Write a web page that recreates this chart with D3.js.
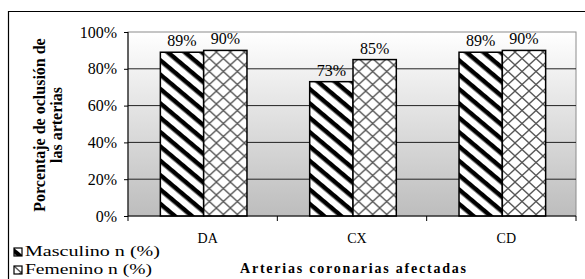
<!DOCTYPE html>
<html>
<head>
<meta charset="utf-8">
<script src="https://cdn.jsdelivr.net/npm/d3@7/dist/d3.min.js"></script>
<style>
  body { margin: 0; background: #fff; }
  svg { display: block; font-family: "Liberation Serif", "Times New Roman", serif; }
</style>
</head>
<body>
<svg id="chart"></svg>
<script>
// data
const categories = ["DA", "CX", "CD"];
const seriesNames = ["Masculino  n (%)", "Femenino n (%)"];
const masculino = [89, 73, 89];
const femenino = [90, 85, 90];
const yTicks = [0, 20, 40, 60, 80, 100];

const width = 585, height = 279;
const marginLeft = 128, marginRight = 9, marginTop = 32, marginBottom = 63;

const svg = d3.select("#chart")
  .attr("width", width)
  .attr("height", height);

const defs = svg.append("defs");

// plot background gradient (white -> gray)
const grad = defs.append("linearGradient")
  .attr("id", "bg").attr("x1", 0).attr("y1", 0).attr("x2", 0).attr("y2", 1);
grad.append("stop").attr("offset", "0%").attr("stop-color", "#ffffff");
grad.append("stop").attr("offset", "100%").attr("stop-color", "#bdbdbd");

// diagonal stripes for Masculino
const stripes = defs.append("pattern")
  .attr("id", "stripes")
  .attr("patternUnits", "userSpaceOnUse")
  .attr("width", 11).attr("height", 11)
  .attr("patternTransform", "rotate(40)");
stripes.append("rect").attr("width", 11).attr("height", 11).attr("fill", "#fff");
stripes.append("rect").attr("y", 0).attr("width", 11).attr("height", 4.5).attr("fill", "#000");

// crosshatch for Femenino
const cross = defs.append("pattern")
  .attr("id", "cross")
  .attr("patternUnits", "userSpaceOnUse")
  .attr("width", 14).attr("height", 13);
cross.append("rect").attr("width", 14).attr("height", 13).attr("fill", "#fff");
cross.append("path")
  .attr("d", "M0,0L14,13M14,0L0,13")
  .attr("stroke", "#555").attr("stroke-width", 1.3).attr("fill", "none");

const fills = ["url(#stripes)", "url(#cross)"];

// outer frame (only top/left visible)
svg.append("path")
  .attr("d", `M8.5,${height}V11.5H${width}`)
  .attr("fill", "none").attr("stroke", "#000").attr("stroke-width", 1.2);

// scales
const x0 = d3.scaleBand()
  .domain(categories)
  .range([marginLeft, width - marginRight]);

const groupW = x0.bandwidth() * 0.58;
const x1 = d3.scaleBand()
  .domain(seriesNames)
  .range([0, groupW]);

const y = d3.scaleLinear()
  .domain([0, 100])
  .range([height - marginBottom, marginTop]);

// plot area
svg.append("rect")
  .attr("x", marginLeft).attr("y", y(100))
  .attr("width", x0.range()[1] - marginLeft)
  .attr("height", y(0) - y(100))
  .attr("fill", "url(#bg)")
  .attr("stroke", "#8c8c8c").attr("stroke-width", 1);

// gridlines
svg.append("g")
  .selectAll("line")
  .data(yTicks.filter(d => d > 0 && d < 100))
  .join("line")
    .attr("x1", marginLeft).attr("x2", x0.range()[1])
    .attr("y1", d => y(d)).attr("y2", d => y(d))
    .attr("stroke", "#222").attr("stroke-width", 1);

// bars
const rows = categories.map((c, i) => ({ cat: c, values: [masculino[i], femenino[i]] }));

const groups = svg.append("g")
  .selectAll("g")
  .data(rows)
  .join("g")
    .attr("transform", d => `translate(${x0(d.cat) + (x0.bandwidth() - groupW) / 2 + 1},0)`);

groups.selectAll("rect")
  .data(d => d.values.map((v, j) => ({ v, j })))
  .join("rect")
    .attr("x", d => x1(seriesNames[d.j]))
    .attr("y", d => y(d.v))
    .attr("width", x1.bandwidth())
    .attr("height", d => y(0) - y(d.v))
    .attr("fill", d => fills[d.j])
    .attr("stroke", "#000").attr("stroke-width", 1.5);

// value labels
groups.selectAll("text")
  .data(d => d.values.map((v, j) => ({ v, j })))
  .join("text")
    .attr("x", d => x1(seriesNames[d.j]) + x1.bandwidth() / 2)
    .attr("y", d => y(d.v) - 6)
    .attr("text-anchor", "middle")
    .attr("font-size", 16)
    .text(d => d.v + "%");

// y axis
svg.append("g")
  .attr("transform", `translate(${marginLeft},0)`)
  .call(d3.axisLeft(y).tickValues(yTicks).tickSize(4).tickPadding(7).tickFormat(d => d + "%"))
  .call(g => g.attr("font-family", null))
  .call(g => g.selectAll("text").attr("font-size", 16).attr("fill", "#000"))
  .call(g => g.select(".domain").attr("d", `M0,${y(100)}V${y(0)}`).attr("stroke", "#000"));

// x axis (ticks at category boundaries)
const xAxisG = svg.append("g")
  .attr("transform", `translate(0,${y(0)})`);
xAxisG.append("line")
  .attr("x1", marginLeft).attr("x2", x0.range()[1])
  .attr("stroke", "#000").attr("stroke-width", 1);
xAxisG.selectAll(".bt")
  .data(categories.map(c => x0(c)).concat([x0.range()[1]]))
  .join("line")
    .attr("class", "bt")
    .attr("x1", d => d).attr("x2", d => d)
    .attr("y1", 0).attr("y2", 5)
    .attr("stroke", "#000");
xAxisG.selectAll("text")
  .data(categories)
  .join("text")
    .attr("x", d => x0(d) + x0.bandwidth() / 2 + 5)
    .attr("y", 27)
    .attr("text-anchor", "middle")
    .attr("font-size", 14)
    .text(d => d);

// axis titles
svg.append("text")
  .attr("x", 240).attr("y", 273)
  .attr("font-size", 14).attr("font-weight", "bold")
  .attr("textLength", 226).attr("lengthAdjust", "spacing")
  .text("Arterias coronarias afectadas");

const yTitle = svg.append("text")
  .attr("transform", `translate(45,${(y(0) + y(100)) / 2 + 1}) rotate(-90)`)
  .attr("text-anchor", "middle")
  .attr("font-size", 16).attr("font-weight", "bold");
yTitle.append("tspan").attr("x", 0).attr("y", 0).text("Porcentaje de oclusión de");
yTitle.append("tspan").attr("x", 0).attr("y", 17).text("las arterias");

// legend
const legend = svg.append("g");
const legendRows = legend.selectAll("g")
  .data(seriesNames)
  .join("g")
    .attr("transform", (d, i) => `translate(14,${248 + i * 18})`);
legendRows.append("rect")
  .attr("width", 8).attr("height", 8)
  .attr("fill", (d, i) => fills[i])
  .attr("stroke", "#000").attr("stroke-width", 1.2);
legendRows.append("text")
  .attr("x", 11).attr("y", 8)
  .attr("font-size", 15)
  .attr("textLength", (d, i) => i === 0 ? 135 : 127)
  .attr("lengthAdjust", "spacingAndGlyphs")
  .text(d => d);
</script>
</body>
</html>
